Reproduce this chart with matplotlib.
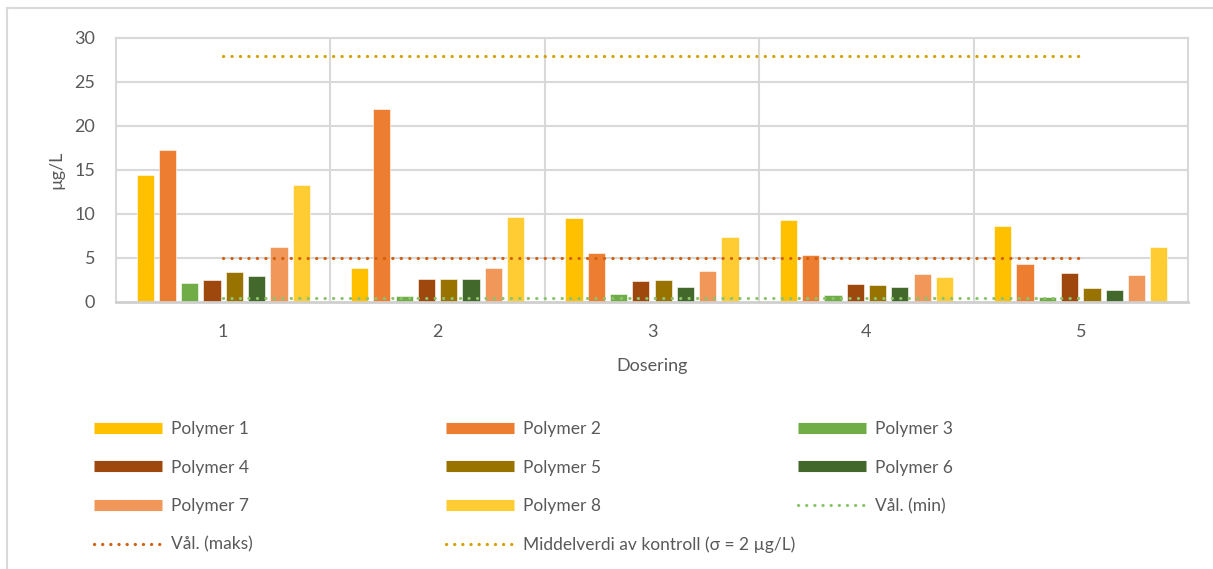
import matplotlib.pyplot as plt
import numpy as np
from matplotlib.lines import Line2D

# --- Dados ---
doser = [1, 2, 3, 4, 5]
polymerer = ['Polymer 1', 'Polymer 2', 'Polymer 3', 'Polymer 4',
             'Polymer 5', 'Polymer 6', 'Polymer 7', 'Polymer 8']

polymer_1 = [14.4, 3.9, 9.5, 9.3, 8.6]
polymer_2 = [17.3, 21.9, 5.6, 5.3, 4.3]
polymer_3 = [2.2, 0.7, 0.9, 0.8, 0.6]
polymer_4 = [2.5, 2.6, 2.4, 2.1, 3.3]
polymer_5 = [3.4, 2.6, 2.5, 1.9, 1.6]
polymer_6 = [2.9, 2.6, 1.7, 1.7, 1.4]
polymer_7 = [6.2, 3.9, 3.5, 3.2, 3.1]
polymer_8 = [13.3, 9.7, 7.4, 2.8, 6.2]

val_min = [0.5, 0.5, 0.5, 0.5, 0.5]
val_maks = [5, 5, 5, 5, 5]
middelverdi = [28, 28, 28, 28, 28]

serier = [polymer_1, polymer_2, polymer_3, polymer_4,
          polymer_5, polymer_6, polymer_7, polymer_8]
farger = ['#FFC000', '#ED7D31', '#70AD47', '#9E480E',
          '#997300', '#43682B', '#F1975A', '#FFCD33']

TEKST = '#595959'
GRID = '#d9d9d9'
plt.rcParams['font.family'] = ['Lato', 'DejaVu Sans']

W, H = 1213, 569
fig = plt.figure(figsize=(W / 100, H / 100), dpi=100)
ax = fig.add_axes([116 / W, 1 - 302 / H, (1188 - 116) / W, (302 - 38) / H])

x = np.arange(1, len(doser) + 1)
pitch = 0.104
bredde = 0.08
for i, (verdier, farge) in enumerate(zip(serier, farger)):
    offset = (i - 3.5) * pitch
    ax.bar(x + offset, verdier, bredde, color=farge, edgecolor='white',
           linewidth=0.4, zorder=2)

# stiplede referanselinjer
prikk = dict(linestyle=(0, (0.05, 2.6)), dash_capstyle='round', lw=2.3, zorder=3)
ax.plot(x, val_min, color='#8CC46A', **prikk)
ax.plot(x, val_maks, color='#D2600F', **prikk)
ax.plot(x, middelverdi, color='#D4A000', **prikk)

ax.set_xlim(0.5, 5.5)
ax.set_ylim(0, 30)
ax.set_yticks(range(0, 31, 5))
ax.set_xticks(x)
ax.set_xticklabels([str(d) for d in doser])
for v in range(5, 31, 5):
    ax.axhline(v, color=GRID, lw=1.5, zorder=1)
for v in np.arange(1.5, 5.5, 1):
    ax.axvline(v, color=GRID, lw=1.5, zorder=1)
for s in ax.spines.values():
    s.set_color(GRID)
    s.set_linewidth(1.5)
ax.spines['bottom'].set_color('#cfcfcf')
ax.spines['bottom'].set_linewidth(2)
ax.tick_params(length=0, labelsize=13, colors=TEKST)
ax.tick_params(axis='x', pad=16)
ax.tick_params(axis='y', pad=15)

ax.set_ylabel('µg/L', fontsize=13, color=TEKST, labelpad=7)
ax.set_xlabel('Dosering', fontsize=13, color=TEKST, labelpad=13)

# ramme rundt hele diagrammet
fig.add_artist(Line2D([7 / W, 7 / W], [0, 1 - 8 / H], color=GRID, lw=1.5))
fig.add_artist(Line2D([7 / W, 1], [1 - 8 / H, 1 - 8 / H], color=GRID, lw=1.5))

# --- Legende i tre kolonner ---
def stolpe(farge):
    return Line2D([], [], color=farge, lw=8, solid_capstyle='butt')

def prikker(farge):
    return Line2D([], [], color=farge, lw=2.3, linestyle=(0, (0.05, 2.5)),
                  dash_capstyle='round')

kolonner = [
    ([stolpe(farger[0]), stolpe(farger[3]), stolpe(farger[6]), prikker('#D2600F')],
     ['Polymer 1', 'Polymer 4', 'Polymer 7', 'Vål. (maks)'], 94),
    ([stolpe(farger[1]), stolpe(farger[4]), stolpe(farger[7]), prikker('#D4A000')],
     ['Polymer 2', 'Polymer 5', 'Polymer 8', 'Middelverdi av kontroll (σ = 2 µg/L)'], 446),
    ([stolpe(farger[2]), stolpe(farger[5]), prikker('#8CC46A')],
     ['Polymer 3', 'Polymer 6', 'Vål. (min)'], 798),
]
for handles, labels, x0 in kolonner:
    fig.legend(handles, labels, loc='upper left',
               bbox_to_anchor=(x0 / W, 1 - 421 / H), frameon=False,
               fontsize=12.5, labelcolor=TEKST, handlelength=3.9,
               handletextpad=0.55, labelspacing=1.3, borderpad=0,
               borderaxespad=0)

fig.savefig('out.png', dpi=100)
